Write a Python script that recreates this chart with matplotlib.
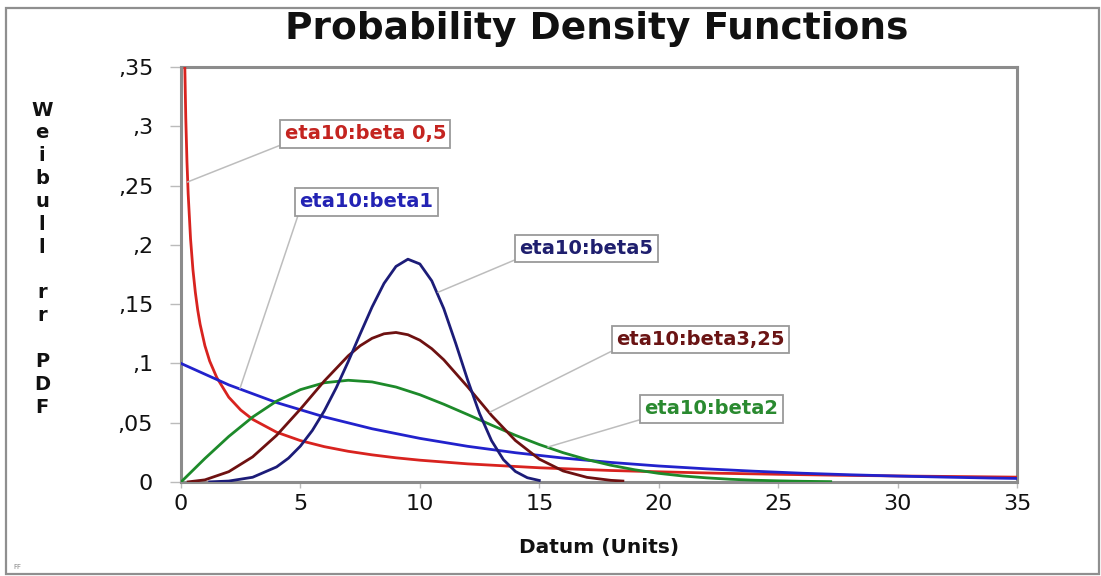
import matplotlib
matplotlib.use("Agg")
import matplotlib.pyplot as plt
from matplotlib.patches import Rectangle

# ---------------- data ----------------
title = "Probability Density Functions"
x_label = "Datum (Units)"
y_label_letters = ["W", "e", "i", "b", "u", "l", "l", "", "r", "r", "", "P", "D", "F"]

x_ticks = [0, 5, 10, 15, 20, 25, 30, 35]
y_ticks = [0, 0.05, 0.10, 0.15, 0.20, 0.25, 0.30, 0.35]
y_tick_labels = ["0", ",05", ",1", ",15", ",2", ",25", ",3", ",35"]

# eta10:beta 0,5
x_b05 = [0.1, 0.15, 0.2, 0.25, 0.3, 0.4, 0.5, 0.6, 0.7, 0.8, 1, 1.2, 1.5, 2, 2.5, 3, 4, 5,
         6, 7, 8, 9, 10, 12, 15, 18, 20, 22.5, 25, 27.5, 30, 32.5, 35]
y_b05 = [0.452, 0.361, 0.307, 0.270, 0.243, 0.205, 0.179, 0.160, 0.145, 0.133, 0.115, 0.102,
         0.088, 0.0715, 0.0607, 0.0528, 0.0420, 0.0349, 0.0298, 0.0259, 0.0229, 0.0204, 0.0184,
         0.0153, 0.0120, 0.0097, 0.0086, 0.0074, 0.0065, 0.0057, 0.0051, 0.0046, 0.0041]

# eta10:beta1
x_b1 = [0, 2, 4, 6, 8, 10, 12, 14, 16, 18, 20, 22, 24, 26, 28, 30, 32, 34, 35]
y_b1 = [0.100, 0.0819, 0.0670, 0.0549, 0.0449, 0.0368, 0.0301, 0.0247, 0.0202, 0.0165,
        0.0135, 0.0111, 0.0091, 0.0074, 0.0061, 0.0050, 0.0041, 0.0033, 0.0030]

# eta10:beta2
x_b2 = [0, 1, 2, 3, 4, 5, 6, 7, 8, 9, 10, 11, 12, 13, 14, 15, 16, 17, 18, 19, 20,
        21, 22, 23, 24, 25, 26, 27.2]
y_b2 = [0.0, 0.0198, 0.0384, 0.0548, 0.0682, 0.0779, 0.0837, 0.0858, 0.0844, 0.0801, 0.0736,
        0.0656, 0.0569, 0.0480, 0.0394, 0.0316, 0.0247, 0.0189, 0.0141, 0.0103, 0.0073,
        0.0051, 0.0035, 0.0023, 0.0015, 0.0010, 0.0006, 0.0003]

# eta10:beta3,25
x_b325 = [0.3, 1, 2, 3, 4, 5, 6, 7, 7.5, 8, 8.5, 9, 9.5, 10, 10.5, 11, 12, 13, 14, 15,
          16, 17, 18, 18.5]
y_b325 = [0.0001, 0.0018, 0.0087, 0.0212, 0.0393, 0.0615, 0.0852, 0.1064, 0.1149, 0.1212,
          0.1250, 0.1261, 0.1242, 0.1196, 0.1124, 0.1031, 0.0803, 0.0562, 0.0350, 0.0193,
          0.0093, 0.0039, 0.0014, 0.0008]

# eta10:beta5
x_b5 = [1.2, 2, 3, 4, 4.5, 5, 5.5, 6, 6.5, 7, 7.5, 8, 8.5, 9, 9.5, 10, 10.5, 11, 11.5,
        12, 12.5, 13, 13.5, 14, 14.5, 15]
y_b5 = [0.0001, 0.0008, 0.0040, 0.0127, 0.0201, 0.0303, 0.0435, 0.0600, 0.0795, 0.1015,
        0.1248, 0.1476, 0.1675, 0.1818, 0.1879, 0.1839, 0.1696, 0.1463, 0.1170, 0.0861,
        0.0577, 0.0349, 0.0188, 0.0089, 0.0036, 0.0013]

series = [
    ("eta10:beta 0,5", x_b05, y_b05, "#d8231f", "#c42420", (7.72, 0.2935), (0.27, 0.253)),
    ("eta10:beta1", x_b1, y_b1, "#2222cc", "#2323b4", (7.76, 0.2362), (2.47, 0.079)),
    ("eta10:beta2", x_b2, y_b2, "#1d8a2a", "#2a8a30", (22.2, 0.0616), (15.36, 0.0295)),
    ("eta10:beta3,25", x_b325, y_b325, "#6e1111", "#6a1414", (21.74, 0.1202), (12.94, 0.059)),
    ("eta10:beta5", x_b5, y_b5, "#1c1c78", "#1f1f6e", (16.97, 0.1969), (10.76, 0.160)),
]

# ---------------- figure ----------------
W, H = 1101, 576
fig = plt.figure(figsize=(W / 100, H / 100), dpi=100)
fig.patch.set_facecolor("white")

# outer frame
fig.patches.append(Rectangle((6 / W, 1 - 574 / H), (1099 - 6) / W, (574 - 8) / H,
                             transform=fig.transFigure, fill=False,
                             ec="#8f8f8f", lw=1.6, zorder=0))

ax = fig.add_axes([181 / W, 1 - 482 / H, (1017 - 181) / W, (482 - 67) / H])
ax.set_xlim(0, 35)
ax.set_ylim(0, 0.35)

for name, xs, ys, lc, tc, tpos, apos in series:
    ax.plot(xs, ys, color=lc, lw=2.0, zorder=3, solid_joinstyle="round")

for name, xs, ys, lc, tc, tpos, apos in series:
    ax.annotate(name, xy=apos, xytext=tpos, textcoords="data",
                ha="center", va="center", fontsize=14, fontweight="bold",
                family="DejaVu Sans", color=tc, zorder=5,
                bbox=dict(boxstyle="square,pad=0.22", fc="white", ec="#9a9a9a", lw=1.3),
                arrowprops=dict(arrowstyle="-", color="#bdbdbd", lw=1.1,
                                relpos=(0, 0), shrinkA=0, shrinkB=0))

for s in ax.spines.values():
    s.set_color("#8c8c8c")
    s.set_linewidth(2.2)

ax.set_xticks(x_ticks)
ax.set_xticklabels([str(v) for v in x_ticks])
ax.set_yticks(y_ticks)
ax.set_yticklabels(y_tick_labels)
ax.tick_params(axis="x", length=4, width=1, color="#bbbbbb", pad=5,
               labelsize=16, labelcolor="#111111")
ax.tick_params(axis="y", length=8, width=1, color="#bbbbbb", pad=12,
               labelsize=16, labelcolor="#111111")

fig.text(597 / W, 1 - 39 / H, title, ha="center", va="baseline",
         fontsize=27, fontweight="bold", family="DejaVu Sans", color="#111111")

fig.text(599 / W, 1 - 553 / H, x_label, ha="center", va="baseline",
         fontsize=14.5, fontweight="bold", family="DejaVu Sans", color="#111111")

for i, ch in enumerate(y_label_letters):
    if ch:
        fig.text(42 / W, 1 - (110 + 22.85 * i) / H, ch, ha="center", va="center",
                 fontsize=14, fontweight="bold", family="DejaVu Sans", color="#111111")

fig.text(13 / W, 1 - 569 / H, "FF", ha="left", va="baseline", fontsize=5, color="#888888")

fig.savefig("out.png", dpi=100, facecolor="white")
